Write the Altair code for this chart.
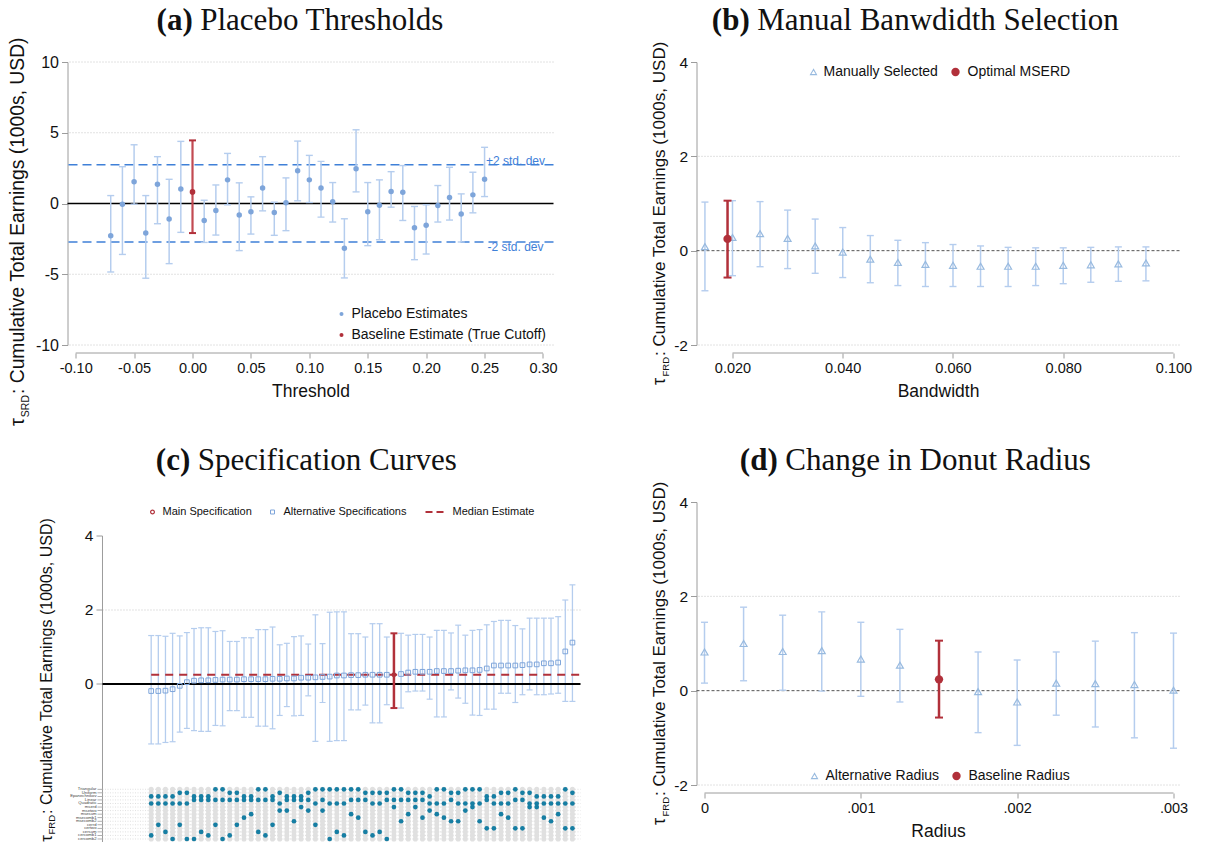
import altair as alt
import pandas as pd

# ============================ DATA ============================
# (a) Placebo thresholds
A_THRESHOLD = [-0.07, -0.06, -0.05, -0.04, -0.03, -0.02, -0.01, 0.00, 0.01, 0.02,
               0.03, 0.04, 0.05, 0.06, 0.07, 0.08, 0.09, 0.10, 0.11, 0.12,
               0.13, 0.14, 0.15, 0.16, 0.17, 0.18, 0.19, 0.20, 0.21, 0.22,
               0.23, 0.24, 0.25]
A_ESTIMATE = [-2.28, -0.05, 1.53, -2.09, 1.36, -1.10, 1.03, 0.82, -1.20, -0.49,
              1.67, -0.82, -0.59, 1.10, -0.63, 0.05, 2.32, 1.67, 1.10, 0.12,
              -3.17, 2.46, -0.59, -0.12, 0.85, 0.80, -1.71, -1.53, -0.14, 0.42,
              -0.75, 0.61, 1.71]
A_CI_HIGH = [0.56, 2.60, 4.15, 0.56, 3.31, 1.71, 4.39, 4.46, 0.23, 1.31,
             3.54, 1.46, 0.47, 3.31, 0.09, 1.81, 4.41, 3.40, 2.98, 1.48,
             -1.08, 5.21, 1.48, 1.67, 2.25, 2.68, -0.21, -0.09, 1.27, 2.56,
             0.68, 2.21, 3.97]
A_CI_LOW = [-4.84, -3.60, -0.05, -5.28, -1.43, -4.25, -2.04, -2.09, -2.75, -2.23,
            -0.09, -3.33, -2.16, -0.52, -2.25, -1.92, 0.19, 0.07, -0.96, -1.31,
            -5.26, 0.82, -2.98, -2.56, -0.26, -1.20, -3.97, -3.57, -1.31, -1.17,
            -2.72, -0.66, 0.49]
A_TRUE_CUTOFF = 0.00
A_SD_LINES = [2.74, -2.72]
A_SD_LABELS = ["+2 std. dev", "-2 std. dev"]
A_XTICKS = [-0.10, -0.05, 0.00, 0.05, 0.10, 0.15, 0.20, 0.25, 0.30]
A_YTICKS = [-10, -5, 0, 5, 10]
A_GRID = [-10, -5, 5, 10]

# (b) Manual bandwidth selection
B_BANDWIDTH = [0.015, 0.020, 0.025, 0.030, 0.035, 0.040, 0.045, 0.050, 0.055,
               0.060, 0.065, 0.070, 0.075, 0.080, 0.085, 0.090, 0.095]
B_ESTIMATE = [0.085, 0.28, 0.36, 0.26, 0.10, -0.03, -0.18, -0.25, -0.29,
              -0.31, -0.33, -0.33, -0.33, -0.31, -0.30, -0.28, -0.26]
B_CI_HIGH = [1.03, 1.06, 1.04, 0.86, 0.67, 0.49, 0.32, 0.22, 0.17,
             0.13, 0.10, 0.07, 0.06, 0.06, 0.07, 0.08, 0.08]
B_CI_LOW = [-0.85, -0.53, -0.34, -0.38, -0.48, -0.57, -0.68, -0.74, -0.76,
            -0.76, -0.76, -0.76, -0.74, -0.70, -0.67, -0.65, -0.64]
B_OPT_BANDWIDTH = [0.0191]
B_OPT_ESTIMATE = [0.25]
B_OPT_LOW = [-0.57]
B_OPT_HIGH = [1.06]
B_XTICKS = [0.02, 0.04, 0.06, 0.08, 0.10]
BD_YTICKS = [-2, 0, 2, 4]
BD_GRID = [-2, 2]

# (c) Specification curve (60 specifications, sorted by estimate)
C_ESTIMATE = [-0.19, -0.19, -0.18, -0.14, -0.05, 0.05, 0.09, 0.10, 0.10, 0.11,
              0.12, 0.12, 0.12, 0.13, 0.13, 0.13, 0.13, 0.14, 0.14, 0.15,
              0.15, 0.17, 0.17, 0.18, 0.19, 0.20, 0.23, 0.23, 0.24, 0.24,
              0.25, 0.25, 0.25, 0.25, 0.25, 0.27, 0.31, 0.33, 0.33, 0.33,
              0.35, 0.35, 0.35, 0.36, 0.37, 0.37, 0.38, 0.42, 0.50, 0.50,
              0.50, 0.50, 0.51, 0.53, 0.53, 0.56, 0.56, 0.58, 0.88, 1.12]
C_CI_HIGH = [1.31, 1.31, 1.29, 1.37, 1.30, 1.39, 1.50, 1.52, 1.52, 1.42,
             1.44, 1.15, 1.15, 1.25, 1.25, 1.47, 1.47, 1.54, 1.06, 1.10,
             1.28, 1.30, 1.08, 1.87, 1.09, 1.94, 1.95, 1.95, 1.36, 1.36,
             1.27, 1.63, 1.63, 1.27, 1.37, 1.37, 1.32, 1.34, 1.34, 1.27,
             1.45, 1.45, 1.38, 1.59, 1.32, 1.45, 1.47, 1.60, 1.69, 1.72,
             1.72, 1.58, 1.49, 1.78, 1.78, 1.78, 1.78, 1.82, 2.27, 2.68]
C_CI_LOW = [-1.62, -1.62, -1.58, -1.56, -1.30, -1.20, -1.26, -1.28, -1.28, -1.12,
            -1.13, -0.72, -0.72, -0.90, -0.90, -1.14, -1.14, -1.21, -0.85, -0.61,
            -0.86, -0.85, -0.32, -1.55, -0.50, -1.55, -1.53, -1.53, -0.70, -0.70,
            -0.57, -1.05, -1.05, -0.56, -0.65, -0.65, -0.21, -0.19, -0.19, -0.41,
            -0.89, -0.89, -0.16, -0.38, -0.52, -0.84, -0.85, -0.68, -0.68, -0.25,
            -0.25, -0.50, -0.29, -0.16, -0.29, -0.29, -0.27, -0.25, -0.47, -0.47]
C_MAIN_INDEX = 34
C_MEDIAN = 0.25
C_YTICKS = [0, 2, 4]
C_GRID = [2]
C_ROW_LABELS = ["Triangular", "Uniform", "Epanechnikov", "Linear", "Quadratic",
                "mserd", "msetwo", "msesum", "msecomb1", "msecomb2",
                "cerrd", "certwo", "cersum", "cercomb1", "cercomb2"]
KERNEL_CODE = {"T": "Triangular", "U": "Uniform", "E": "Epanechnikov"}
POLY_CODE = {"L": "Linear", "Q": "Quadratic"}
C_KERNEL = ("E E E E U U E E E T T U U E E T T E U E E E U T T T T T T T "
            "U U U U T T U U U E T T U U T T T E E U U T U U E E E E T U").split()
C_POLY = ("Q Q Q Q Q Q L L L L L L L L L L L L Q L L L L Q L Q Q Q L L "
          "L Q Q L L L L L L Q Q Q L Q Q Q Q L Q Q Q L L Q Q Q Q Q Q Q").split()
C_BWSELECT = ["cercomb1", "cerrd", "cersum", "cercomb2", "cerrd", "cercomb2", "cercomb2", "cersum", "cercomb1", "cerrd",
              "cercomb2", "cercomb1", "cerrd", "msecomb1", "msesum", "cersum", "cercomb1", "cerrd", "msetwo", "msetwo",
              "msecomb2", "mserd", "msetwo", "cerrd", "msetwo", "cercomb2", "cersum", "cercomb1", "msesum", "msecomb1",
              "cersum", "cercomb1", "cersum", "cercomb2", "mserd", "msecomb2", "msesum", "mserd", "msecomb1", "msetwo",
              "msesum", "msecomb1", "msecomb2", "msecomb2", "msetwo", "mserd", "msecomb2", "certwo", "certwo", "msesum",
              "msecomb1", "certwo", "certwo", "mserd", "mserd", "msecomb1", "msecomb2", "msesum", "certwo", "certwo"]

# (d) Donut radius
D_RADIUS = [0.0, 0.00025, 0.0005, 0.00075, 0.001, 0.00125, 0.0015, 0.00175,
            0.002, 0.00225, 0.0025, 0.00275, 0.003]
D_ESTIMATE = [0.82, 1.00, 0.83, 0.85, 0.67, 0.54, 0.24, -0.02, -0.24, 0.16, 0.15, 0.13, 0.01]
D_CI_HIGH = [1.45, 1.77, 1.60, 1.67, 1.45, 1.30, 1.06, 0.82, 0.65, 0.82, 1.05, 1.23, 1.22]
D_CI_LOW = [0.16, 0.21, 0.01, -0.01, -0.12, -0.24, -0.57, -0.89, -1.16, -0.52, -0.77, -1.00, -1.22]
D_BASELINE_RADIUS = 0.0015
D_XTICKS = [0.0, 0.001, 0.002, 0.003]

# ============================ STYLE ============================
FONT = "Liberation Sans Narrow, Arial Narrow, Liberation Sans, Arial, sans-serif"
FONT_Y = "Liberation Sans, Arial, sans-serif"
SERIF = "Liberation Serif, Times New Roman, serif"
TXT = "#111111"
AXIS = "#9c9c9c"
GRID = "#c4c4c4"
BLUE_PT = "#7ea5da"
BLUE_BAR = "#b5cdee"
BLUE_TRI = "#98badf"
BLUE_DASH = "#3f80d8"
RED = "#b1303a"
RED_BAR_A = "#c24a52"
TEAL = "#167ea3"

LEG_FS = 14
TICK_FS = 14.5
YTICK_FS = 15.5
XTITLE_FS = 17.5

ONE = pd.DataFrame({"k": [0]})

NEG2F = "datum.value < 0 ? '-' + format(-datum.value, '.2f') : format(datum.value, '.2f')"
POS3F = "format(datum.value, '.3f')"
INTF = "datum.value < 0 ? '-' + format(-datum.value, 'd') : format(datum.value, 'd')"
DOTF = "datum.value == 0 ? '0' : replace(format(datum.value, '.3f'), '0.', '.')"


def txt(text, x, y, size, font=FONT, color=TXT, align="left", baseline="middle",
        weight="normal", angle=0):
    kw = dict(text=text, fontSize=size, font=font, color=color, align=align,
              baseline=baseline, fontWeight=weight)
    if angle:
        kw["angle"] = angle
    return alt.Chart(ONE).mark_text(**kw).encode(x=alt.value(x), y=alt.value(y))


def title_layers(bold, rest, cx, cy, bold_w, rest_w, size=31, gap=7.5):
    total = bold_w + gap + rest_w
    p = cx - total / 2 + bold_w
    return [txt(bold, p, cy, size, font=SERIF, align="right", weight="bold"),
            txt(rest, p + gap, cy, size, font=SERIF, align="left")]


def ytitle_layers(sub, bx, y_start, fs, fs_sub, sub_w):
    return [
        txt(": Cumulative Total Earnings (1000s, USD)", bx, y_start, fs, font=FONT_Y,
            align="left", baseline="alphabetic", angle=270),
        txt(sub, bx + 0.24 * fs, y_start + 1, fs_sub, font=FONT_Y,
            align="right", baseline="alphabetic", angle=270),
        txt("\u03c4", bx, y_start + 2 + sub_w, fs * 1.05, font=FONT_Y,
            align="right", baseline="alphabetic", angle=270),
    ]


def x_axis(values, expr, title, fs=TICK_FS, tfs=XTITLE_FS):
    return alt.Axis(values=values, labelExpr=expr, title=title, domain=False, grid=False,
                    offset=8, tickColor=AXIS, tickSize=5, tickWidth=1, labelFontSize=fs,
                    labelFont=FONT, labelColor=TXT, labelPadding=3, labelFlush=False,
                    labelOverlap=False, titleFont=FONT, titleFontSize=tfs,
                    titleFontWeight="normal", titleColor=TXT, titleY=38,
                    titleBaseline="middle")


def y_axis(values, fs=YTICK_FS):
    return alt.Axis(values=values, labelExpr=INTF, title="", grid=False, domainColor=AXIS,
                    domainWidth=1, tickColor=AXIS, tickSize=6, tickWidth=1,
                    labelFontSize=fs, labelFont=FONT, labelColor=TXT, labelPadding=3)


# ============================ PANEL (a) ============================
A_X0, A_Y0 = 67, 62
AW, AH = 486, 283
A_XDOM = [-0.107, 0.309]
A_YDOM = [-10, 10]


def xa(f):
    return alt.X(f"{f}:Q", scale=alt.Scale(domain=A_XDOM, nice=False, zero=False),
                 axis=x_axis(A_XTICKS, NEG2F, "Threshold"))


def ya(f):
    return alt.Y(f"{f}:Q", scale=alt.Scale(domain=A_YDOM, nice=False, zero=False),
                 axis=y_axis(A_YTICKS, 16))


dfa = pd.DataFrame({"thr": A_THRESHOLD, "est": A_ESTIMATE, "lo": A_CI_LOW, "hi": A_CI_HIGH})
dfa_p = dfa[dfa["thr"] != A_TRUE_CUTOFF]
dfa_b = dfa[dfa["thr"] == A_TRUE_CUTOFF]

a_layers = [
    alt.Chart(pd.DataFrame({"g": A_GRID})).mark_rule(color=GRID, strokeDash=[1, 2], strokeWidth=1).encode(y=ya("g")),
    alt.Chart(pd.DataFrame({"z": [0]})).mark_rule(color="black", strokeWidth=1.4).encode(y=ya("z")),
    alt.Chart(pd.DataFrame({"v": A_SD_LINES})).mark_rule(color=BLUE_DASH, strokeDash=[9, 5], strokeWidth=1.6).encode(y=ya("v")),
    alt.Chart(pd.DataFrame({"v": [A_SD_LINES[0]], "t": [A_SD_LABELS[0]]})).mark_text(
        font=FONT, fontSize=12, color=BLUE_DASH, align="center", baseline="alphabetic").encode(
        x=alt.value(448), y=ya("v"), text="t:N"),
    alt.Chart(pd.DataFrame({"v": [A_SD_LINES[1]], "t": [A_SD_LABELS[1]]})).mark_text(
        font=FONT, fontSize=12, color=BLUE_DASH, align="center", baseline="top").encode(
        x=alt.value(448), y=ya("v"), text="t:N"),
    alt.Chart(dfa_p).mark_rule(color=BLUE_BAR, strokeWidth=1.5).encode(x=xa("thr"), y=ya("lo"), y2="hi:Q"),
    alt.Chart(dfa_p).mark_tick(orient="horizontal", size=7, thickness=1.4, color=BLUE_BAR, opacity=1).encode(x=xa("thr"), y=ya("lo")),
    alt.Chart(dfa_p).mark_tick(orient="horizontal", size=7, thickness=1.4, color=BLUE_BAR, opacity=1).encode(x=xa("thr"), y=ya("hi")),
    alt.Chart(dfa_p).mark_circle(size=30, color=BLUE_PT, opacity=1).encode(x=xa("thr"), y=ya("est")),
    alt.Chart(dfa_b).mark_rule(color=RED_BAR_A, strokeWidth=2.2).encode(x=xa("thr"), y=ya("lo"), y2="hi:Q"),
    alt.Chart(dfa_b).mark_tick(orient="horizontal", size=7, thickness=2, color=RED, opacity=1).encode(x=xa("thr"), y=ya("lo")),
    alt.Chart(dfa_b).mark_tick(orient="horizontal", size=7, thickness=2, color=RED, opacity=1).encode(x=xa("thr"), y=ya("hi")),
    alt.Chart(dfa_b).mark_circle(size=32, color=RED, opacity=1).encode(x=xa("thr"), y=ya("est")),
    alt.Chart(pd.DataFrame({"x0": [A_XTICKS[0]], "x1": [A_XTICKS[-1]]})).mark_rule(color=AXIS, strokeWidth=1).encode(
        x=xa("x0"), x2="x1:Q", y=alt.value(AH + 8)),
    # legend
    alt.Chart(ONE).mark_circle(size=16, color=BLUE_PT, opacity=1).encode(x=alt.value(274), y=alt.value(252)),
    txt("Placebo Estimates", 284, 252, LEG_FS),
    alt.Chart(ONE).mark_circle(size=16, color=RED, opacity=1).encode(x=alt.value(274), y=alt.value(273)),
    txt("Baseline Estimate (True Cutoff)", 284, 273, LEG_FS),
]
a_layers += title_layers("(a)", "Placebo Thresholds", 300 - A_X0, 21 - A_Y0, 36, 244)
a_layers += ytitle_layers("SRD", 23.5 - A_X0, 394 - A_Y0, 19.3, 10.5, 22)
pa = alt.layer(*a_layers).properties(width=AW, height=AH)

# ============================ PANEL (b) ============================
B_X0, B_Y0 = 696, 62
BW, BH = 483, 283
B_XDOM = [0.01347, 0.10109]
BD_YDOM = [-2, 4]


def xb(f):
    return alt.X(f"{f}:Q", scale=alt.Scale(domain=B_XDOM, nice=False, zero=False),
                 axis=x_axis(B_XTICKS, POS3F, "Bandwidth"))


def yb(f):
    return alt.Y(f"{f}:Q", scale=alt.Scale(domain=BD_YDOM, nice=False, zero=False),
                 axis=y_axis(BD_YTICKS))


dfb = pd.DataFrame({"bw": B_BANDWIDTH, "est": B_ESTIMATE, "lo": B_CI_LOW, "hi": B_CI_HIGH})
dfb_o = pd.DataFrame({"bw": B_OPT_BANDWIDTH, "est": B_OPT_ESTIMATE, "lo": B_OPT_LOW, "hi": B_OPT_HIGH})

b_layers = [
    alt.Chart(pd.DataFrame({"g": BD_GRID})).mark_rule(color=GRID, strokeDash=[1, 2], strokeWidth=1).encode(y=yb("g")),
    alt.Chart(pd.DataFrame({"z": [0]})).mark_rule(color="#555555", strokeDash=[3, 2], strokeWidth=1).encode(y=yb("z")),
    alt.Chart(dfb).mark_rule(color=BLUE_BAR, strokeWidth=1.5).encode(x=xb("bw"), y=yb("lo"), y2="hi:Q"),
    alt.Chart(dfb).mark_tick(orient="horizontal", size=7, thickness=1.4, color=BLUE_BAR, opacity=1).encode(x=xb("bw"), y=yb("lo")),
    alt.Chart(dfb).mark_tick(orient="horizontal", size=7, thickness=1.4, color=BLUE_BAR, opacity=1).encode(x=xb("bw"), y=yb("hi")),
    alt.Chart(dfb).mark_point(shape="triangle-up", filled=False, size=48, strokeWidth=1.2, color=BLUE_TRI, opacity=1).encode(x=xb("bw"), y=yb("est")),
    alt.Chart(dfb_o).mark_rule(color=RED, strokeWidth=2.5).encode(x=xb("bw"), y=yb("lo"), y2="hi:Q"),
    alt.Chart(dfb_o).mark_tick(orient="horizontal", size=8, thickness=2, color=RED, opacity=1).encode(x=xb("bw"), y=yb("lo")),
    alt.Chart(dfb_o).mark_tick(orient="horizontal", size=8, thickness=2, color=RED, opacity=1).encode(x=xb("bw"), y=yb("hi")),
    alt.Chart(dfb_o).mark_circle(size=70, color=RED, opacity=1).encode(x=xb("bw"), y=yb("est")),
    alt.Chart(pd.DataFrame({"x0": [B_XTICKS[0]], "x1": [B_XTICKS[-1]]})).mark_rule(color=AXIS, strokeWidth=1).encode(
        x=xb("x0"), x2="x1:Q", y=alt.value(BH + 8)),
    alt.Chart(ONE).mark_point(shape="triangle-up", filled=False, size=36, strokeWidth=1.1, color=BLUE_TRI, opacity=1).encode(
        x=alt.value(117), y=alt.value(10)),
    txt("Manually Selected", 127, 10, LEG_FS),
    alt.Chart(ONE).mark_circle(size=70, color=RED, opacity=1).encode(x=alt.value(259), y=alt.value(10)),
    txt("Optimal MSERD", 271, 10, LEG_FS),
]
b_layers += title_layers("(b)", "Manual Banwdidth Selection", 915 - B_X0, 21 - B_Y0, 38, 362)
b_layers += ytitle_layers("FRD", 664 - B_X0, 356 - B_Y0, 17, 9.5, 20)
pb = alt.layer(*b_layers).properties(width=BW, height=BH)

# ============================ PANEL (c) ============================
C_X0, C_Y0 = 67, 502
CW, CH = 513, 340
C_XDOM = [-11.72, 60.13]
C_YDOM = [-4.27, 4.919]
C_AXIS_X = -6.82
C_MATRIX_YDOM = [14.85, -80.93]


def xc(f):
    return alt.X(f"{f}:Q", scale=alt.Scale(domain=C_XDOM, nice=False, zero=False), axis=None)


def yc(f):
    return alt.Y(f"{f}:Q", scale=alt.Scale(domain=C_YDOM, nice=False, zero=False), axis=None)


def ym(f):
    return alt.Y(f"{f}:Q", scale=alt.Scale(domain=C_MATRIX_YDOM, nice=False, zero=False), axis=None)


dfc = pd.DataFrame({"i": list(range(len(C_ESTIMATE))), "est": C_ESTIMATE, "lo": C_CI_LOW, "hi": C_CI_HIGH})
dfc_alt = dfc[dfc["i"] != C_MAIN_INDEX]
dfc_main = dfc[dfc["i"] == C_MAIN_INDEX]

spec_layers = [
    alt.Chart(pd.DataFrame({"v": C_GRID, "x0": C_AXIS_X, "x1": C_XDOM[1]})).mark_rule(
        color=GRID, strokeDash=[1, 2], strokeWidth=1).encode(x=xc("x0"), x2="x1:Q", y=yc("v")),
    alt.Chart(pd.DataFrame({"x": [C_AXIS_X], "y0": [C_YTICKS[-1]], "y1": [C_YDOM[0]]})).mark_rule(
        color=AXIS, strokeWidth=1).encode(x=xc("x"), y=yc("y0"), y2="y1:Q"),
    alt.Chart(pd.DataFrame({"v": C_YTICKS, "x": C_AXIS_X})).mark_tick(
        orient="horizontal", size=6, thickness=1, color=AXIS, opacity=1, xOffset=-3).encode(x=xc("x"), y=yc("v")),
    alt.Chart(pd.DataFrame({"v": C_YTICKS, "x": C_AXIS_X})).mark_text(
        font=FONT, fontSize=YTICK_FS, color=TXT, align="right", baseline="middle", dx=-9).encode(
        x=xc("x"), y=yc("v"), text=alt.Text("v:Q", format="d")),
    alt.Chart(dfc_alt).mark_rule(color=BLUE_BAR, strokeWidth=1.3).encode(x=xc("i"), y=yc("lo"), y2="hi:Q"),
    alt.Chart(dfc_alt).mark_tick(orient="horizontal", size=6, thickness=1.2, color=BLUE_BAR, opacity=1).encode(x=xc("i"), y=yc("lo")),
    alt.Chart(dfc_alt).mark_tick(orient="horizontal", size=6, thickness=1.2, color=BLUE_BAR, opacity=1).encode(x=xc("i"), y=yc("hi")),
    alt.Chart(pd.DataFrame({"v": [0], "x0": C_AXIS_X, "x1": C_XDOM[1]})).mark_rule(
        color="black", strokeWidth=2).encode(x=xc("x0"), x2="x1:Q", y=yc("v")),
    alt.Chart(pd.DataFrame({"v": [C_MEDIAN], "x0": [0], "x1": [C_XDOM[1]]})).mark_rule(
        color=RED, strokeDash=[8, 6], strokeWidth=2).encode(x=xc("x0"), x2="x1:Q", y=yc("v")),
    alt.Chart(dfc_alt).mark_point(shape="square", filled=False, size=22, strokeWidth=1, color=BLUE_PT, opacity=1).encode(x=xc("i"), y=yc("est")),
    alt.Chart(dfc_main).mark_rule(color=RED, strokeWidth=2.5).encode(x=xc("i"), y=yc("lo"), y2="hi:Q"),
    alt.Chart(dfc_main).mark_tick(orient="horizontal", size=7, thickness=2, color=RED, opacity=1).encode(x=xc("i"), y=yc("lo")),
    alt.Chart(dfc_main).mark_tick(orient="horizontal", size=7, thickness=2, color=RED, opacity=1).encode(x=xc("i"), y=yc("hi")),
    alt.Chart(dfc_main).mark_point(shape="circle", filled=False, size=14, strokeWidth=1.2, color=RED, opacity=1).encode(x=xc("i"), y=yc("est")),
    # legend
    alt.Chart(ONE).mark_point(shape="circle", filled=False, size=14, strokeWidth=1.2, color=RED, opacity=1).encode(
        x=alt.value(85), y=alt.value(10)),
    txt("Main Specification", 95, 10, 11),
    alt.Chart(ONE).mark_point(shape="square", filled=False, size=16, strokeWidth=1, color=BLUE_PT, opacity=1).encode(
        x=alt.value(205), y=alt.value(10)),
    txt("Alternative Specifications", 216, 10, 11),
    alt.Chart(ONE).mark_rule(color=RED, strokeDash=[7, 4], strokeWidth=2).encode(
        x=alt.value(358), x2=alt.value(376), y=alt.value(10)),
    txt("Median Estimate", 385, 10, 11),
]
spec_layers += title_layers("(c)", "Specification Curves", 306 - C_X0, 461 - C_Y0, 34, 259)
spec_layers += ytitle_layers("FRD", 51 - C_X0, 814 - C_Y0, 16, 9.5, 19)
spec = alt.layer(*spec_layers)

rows_df = pd.DataFrame({"row": list(range(len(C_ROW_LABELS))), "label": C_ROW_LABELS,
                        "x0": C_AXIS_X, "x1": C_XDOM[1]})
cells = pd.DataFrame([{"i": i, "row": r} for i in range(len(C_ESTIMATE)) for r in range(len(C_ROW_LABELS))])
dots = []
for i in range(len(C_ESTIMATE)):
    for lab in (KERNEL_CODE[C_KERNEL[i]], POLY_CODE[C_POLY[i]], C_BWSELECT[i]):
        dots.append({"i": i, "row": C_ROW_LABELS.index(lab)})
dots = pd.DataFrame(dots)

matrix = alt.layer(
    alt.Chart(rows_df).mark_rule(color="#d2d2d2", strokeDash=[1, 1.5], strokeWidth=0.7).encode(
        x=xc("x0"), x2="x1:Q", y=ym("row")),
    alt.Chart(rows_df).mark_tick(orient="horizontal", size=5, thickness=0.8, color=AXIS, opacity=1, xOffset=-2.5).encode(
        x=xc("x0"), y=ym("row")),
    alt.Chart(rows_df).mark_text(font=FONT, fontSize=4.2, color="#444444", align="right", baseline="middle", dx=-6).encode(
        x=xc("x0"), y=ym("row"), text="label:N"),
    alt.Chart(cells).mark_circle(size=26, color="#e0e0e0", opacity=1).encode(x=xc("i"), y=ym("row")),
    alt.Chart(dots).mark_circle(size=22, color=TEAL, opacity=1).encode(x=xc("i"), y=ym("row")),
)
pc = alt.layer(spec, matrix).resolve_scale(y="independent").properties(width=CW, height=CH)

# ============================ PANEL (d) ============================
D_X0, D_Y0 = 696, 502
DW, DH = 483, 283
D_XDOM = [-0.0000512, 0.0030384]


def xd(f):
    return alt.X(f"{f}:Q", scale=alt.Scale(domain=D_XDOM, nice=False, zero=False),
                 axis=x_axis(D_XTICKS, DOTF, "Radius"))


def yd(f):
    return alt.Y(f"{f}:Q", scale=alt.Scale(domain=BD_YDOM, nice=False, zero=False),
                 axis=y_axis(BD_YTICKS))


dfd = pd.DataFrame({"r": D_RADIUS, "est": D_ESTIMATE, "lo": D_CI_LOW, "hi": D_CI_HIGH})
dfd_a = dfd[dfd["r"] != D_BASELINE_RADIUS]
dfd_b = dfd[dfd["r"] == D_BASELINE_RADIUS]

d_layers = [
    alt.Chart(pd.DataFrame({"g": BD_GRID})).mark_rule(color=GRID, strokeDash=[1, 2], strokeWidth=1).encode(y=yd("g")),
    alt.Chart(pd.DataFrame({"z": [0]})).mark_rule(color="#555555", strokeDash=[3, 2], strokeWidth=1).encode(y=yd("z")),
    alt.Chart(dfd_a).mark_rule(color=BLUE_BAR, strokeWidth=1.5).encode(x=xd("r"), y=yd("lo"), y2="hi:Q"),
    alt.Chart(dfd_a).mark_tick(orient="horizontal", size=7, thickness=1.4, color=BLUE_BAR, opacity=1).encode(x=xd("r"), y=yd("lo")),
    alt.Chart(dfd_a).mark_tick(orient="horizontal", size=7, thickness=1.4, color=BLUE_BAR, opacity=1).encode(x=xd("r"), y=yd("hi")),
    alt.Chart(dfd_a).mark_point(shape="triangle-up", filled=False, size=48, strokeWidth=1.2, color=BLUE_TRI, opacity=1).encode(x=xd("r"), y=yd("est")),
    alt.Chart(dfd_b).mark_rule(color=RED, strokeWidth=2.5).encode(x=xd("r"), y=yd("lo"), y2="hi:Q"),
    alt.Chart(dfd_b).mark_tick(orient="horizontal", size=8, thickness=2, color=RED, opacity=1).encode(x=xd("r"), y=yd("lo")),
    alt.Chart(dfd_b).mark_tick(orient="horizontal", size=8, thickness=2, color=RED, opacity=1).encode(x=xd("r"), y=yd("hi")),
    alt.Chart(dfd_b).mark_circle(size=70, color=RED, opacity=1).encode(x=xd("r"), y=yd("est")),
    alt.Chart(pd.DataFrame({"x0": [D_XTICKS[0]], "x1": [D_XTICKS[-1]]})).mark_rule(color=AXIS, strokeWidth=1).encode(
        x=xd("x0"), x2="x1:Q", y=alt.value(DH + 8)),
    alt.Chart(ONE).mark_point(shape="triangle-up", filled=False, size=36, strokeWidth=1.1, color=BLUE_TRI, opacity=1).encode(
        x=alt.value(118), y=alt.value(274)),
    txt("Alternative Radius", 129, 274, LEG_FS),
    alt.Chart(ONE).mark_circle(size=70, color=RED, opacity=1).encode(x=alt.value(260), y=alt.value(274)),
    txt("Baseline Radius", 272, 274, LEG_FS),
]
d_layers += title_layers("(d)", "Change in Donut Radius", 915 - D_X0, 461 - D_Y0, 38, 306)
d_layers += ytitle_layers("FRD", 664 - D_X0, 796 - D_Y0, 17, 9.5, 20)
pd_ = alt.layer(*d_layers).properties(width=DW, height=DH)

# ============================ LAYOUT ============================
PL = 67 - 59.5
PT = 21 - 16

chart = alt.concat(
    pa, pb, pc, pd_, columns=2, spacing={"row": 157, "column": 116},
    bounds="flush", align="each",
).properties(
    padding={"left": PL, "top": PT, "right": 4, "bottom": 4}
).configure_view(strokeWidth=0)

chart.save("out.html", embed_options={"renderer": "svg", "actions": False})
